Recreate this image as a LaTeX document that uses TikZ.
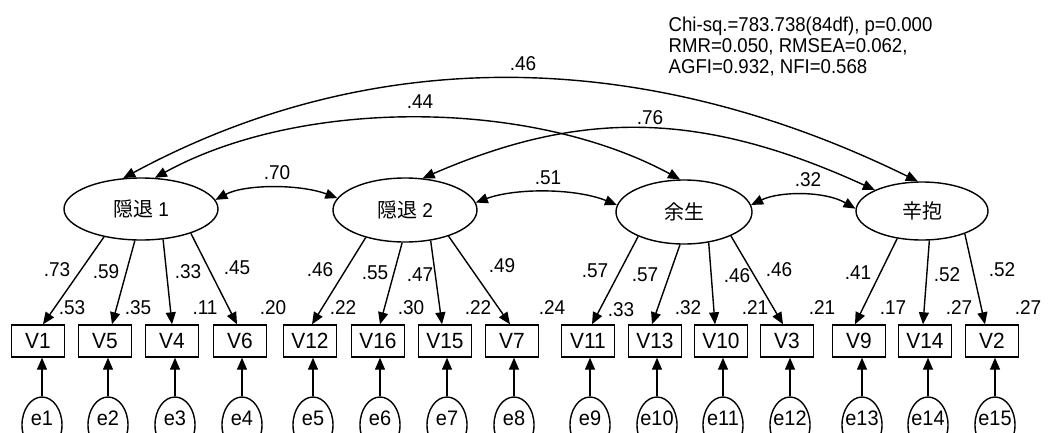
\documentclass[tikz,border=0pt]{standalone}
\usepackage{fontspec}
\setmainfont[FakeStretch=0.95]{Liberation Sans}
\newfontfamily\fitfont[FakeStretch=0.93]{Liberation Sans}
\newfontfamily\cjkfont{Noto Sans CJK JP}
\usetikzlibrary{shapes.geometric,arrows.meta,calc}
\tikzset{
  every node/.style={font=\fontsize{20bp}{21bp}\selectfont},
  amos/.tip={Triangle[length=12bp,width=10bp]},
  arr/.style={-amos},
  cov/.style={amos-amos},
  latent/.style={ellipse, draw, inner sep=0pt},
  obsv/.style={rectangle, draw, minimum width=53bp, minimum height=32bp, inner sep=0pt,
               font=\fontsize{22bp}{22bp}\selectfont},
  errv/.style={ellipse, draw, minimum width=40bp, minimum height=56bp, inner sep=0pt},
  errtxt/.style={yshift=7bp, inner sep=0pt, font=\fontsize{21bp}{21bp}\selectfont},
  num/.style={inner sep=0pt},
}
\begin{document}
\begin{tikzpicture}[x=1bp, y=-1bp, line width=1.4bp]
\useasboundingbox (0,0) rectangle (1052,432);
\clip (0,0) rectangle (1052,432);

% latent factors
\node[latent, minimum width=154bp, minimum height=62bp] (L1) at (141,209) {{\cjkfont 隠退} 1};
\node[latent, minimum width=144bp, minimum height=64bp] (L2) at (405,210) {{\cjkfont 隠退} 2};
\node[latent, minimum width=136bp, minimum height=64bp] (L3) at (684,212) {\cjkfont 余生};
\node[latent, minimum width=132bp, minimum height=58bp] (L4) at (922,211) {\cjkfont 辛抱};

% observed items
\foreach \v/\x in {V1/38, V5/105, V4/172, V6/240, V12/310, V16/378, V15/445, V7/512,
                   V11/588, V13/655, V10/721, V3/787, V9/859, V14/925, V2/992}
  \node[obsv] (\v) at (\x,341) {\v};

% error terms
\foreach \i/\x in {1/42, 2/108, 3/175, 4/242, 5/313, 6/380, 7/447, 8/514,
                   9/590, 10/657, 11/723, 12/790, 13/862, 14/928, 15/995}
  \node[errv, label={[errtxt]center:e\i}] (e\i) at (\x,425) {};

% error paths
\foreach \i/\v in {1/V1, 2/V5, 3/V4, 4/V6, 5/V12, 6/V16, 7/V15, 8/V7,
                   9/V11, 10/V13, 11/V10, 12/V3, 13/V9, 14/V14, 15/V2}
  \draw[arr] (e\i) -- (e\i |- \v.south);

% factor loadings
\foreach \l/\a/\v/\d in {L1/217/V1/5, L1/259/V5/7, L1/306/V4/0, L1/334/V6/-3,
                         L2/215/V12/2, L2/265/V16/2, L2/310/V15/-3, L2/329/V7/-2,
                         L3/208/V11/4, L3/263/V13/-3, L3/309/V10/-6, L3/333/V3/-4,
                         L4/228/V9/-4, L4/284/V14/-2, L4/332/V2/-7}
  \draw[arr] (\l.\a) -- ($(\v.north)+(\d,0)$);

% factor covariances
\draw[cov] (L1.7) .. controls (245,184) and (300,184) .. (L2.170);
\draw[cov] (L2.6) .. controls (515,188) and (575,188) .. (L3.174);
\draw[cov] (L3.6) .. controls (780,191) and (825,191) .. (L4.178);
\draw[cov] (L1.66) .. controls (300,98) and (530,98) .. (L3.97);
\draw[cov] (L1.120) .. controls (370,45) and (640,45) .. (L4.98);
\draw[cov] (L2.61) .. controls (580,110) and (700,110) .. (L4.156);

% correlation estimates
\node[num] (c12) at (277,173) {.70};
\node[num] (c23) at (548,178) {.51};
\node[num] (c34) at (808,180) {.32};
\node[num] (c13) at (420,102) {.44};
\node[num] (c14) at (523,64) {.46};
\node[num] (c24) at (650,118) {.76};

% standardized loadings
\foreach \n/\x/\y/\t in {1/57/270/.73, 2/106/272/.59, 3/188/272/.33, 4/237/268/.45,
                         5/320/270/.46, 6/375/273/.55, 7/420/275/.47, 8/502/266/.49,
                         9/595/271/.57, 10/645/275/.57, 11/737/276/.46, 12/779/270/.46,
                         13/858/273/.41, 14/947/275/.52, 15/1002/270/.52}
  \node[num] (ld\n) at (\x,\y) {\t};

% squared multiple correlations
\foreach \n/\x/\y/\t in {1/72/308/.53, 2/138/308/.35, 3/205/308/.11, 4/273/308/.20,
                         5/343/308/.22, 6/411/308/.30, 7/478/308/.22, 8/552/308/.24,
                         9/621/310/.33, 10/688/308/.32, 11/755/308/.21, 12/822/308/.21,
                         13/893/308/.17, 14/959/308/.27, 15/1028/308/.27}
  \node[num] (r\n) at (\x,\y) {\t};

% fit indices
\node[anchor=north west, align=left, inner sep=0pt, font=\fitfont\fontsize{20bp}{21bp}\selectfont]
  (fit) at (668,16)
  {Chi-sq.=783.738(84df), p=0.000\\RMR=0.050, RMSEA=0.062,\\AGFI=0.932, NFI=0.568};
\end{tikzpicture}
\end{document}
